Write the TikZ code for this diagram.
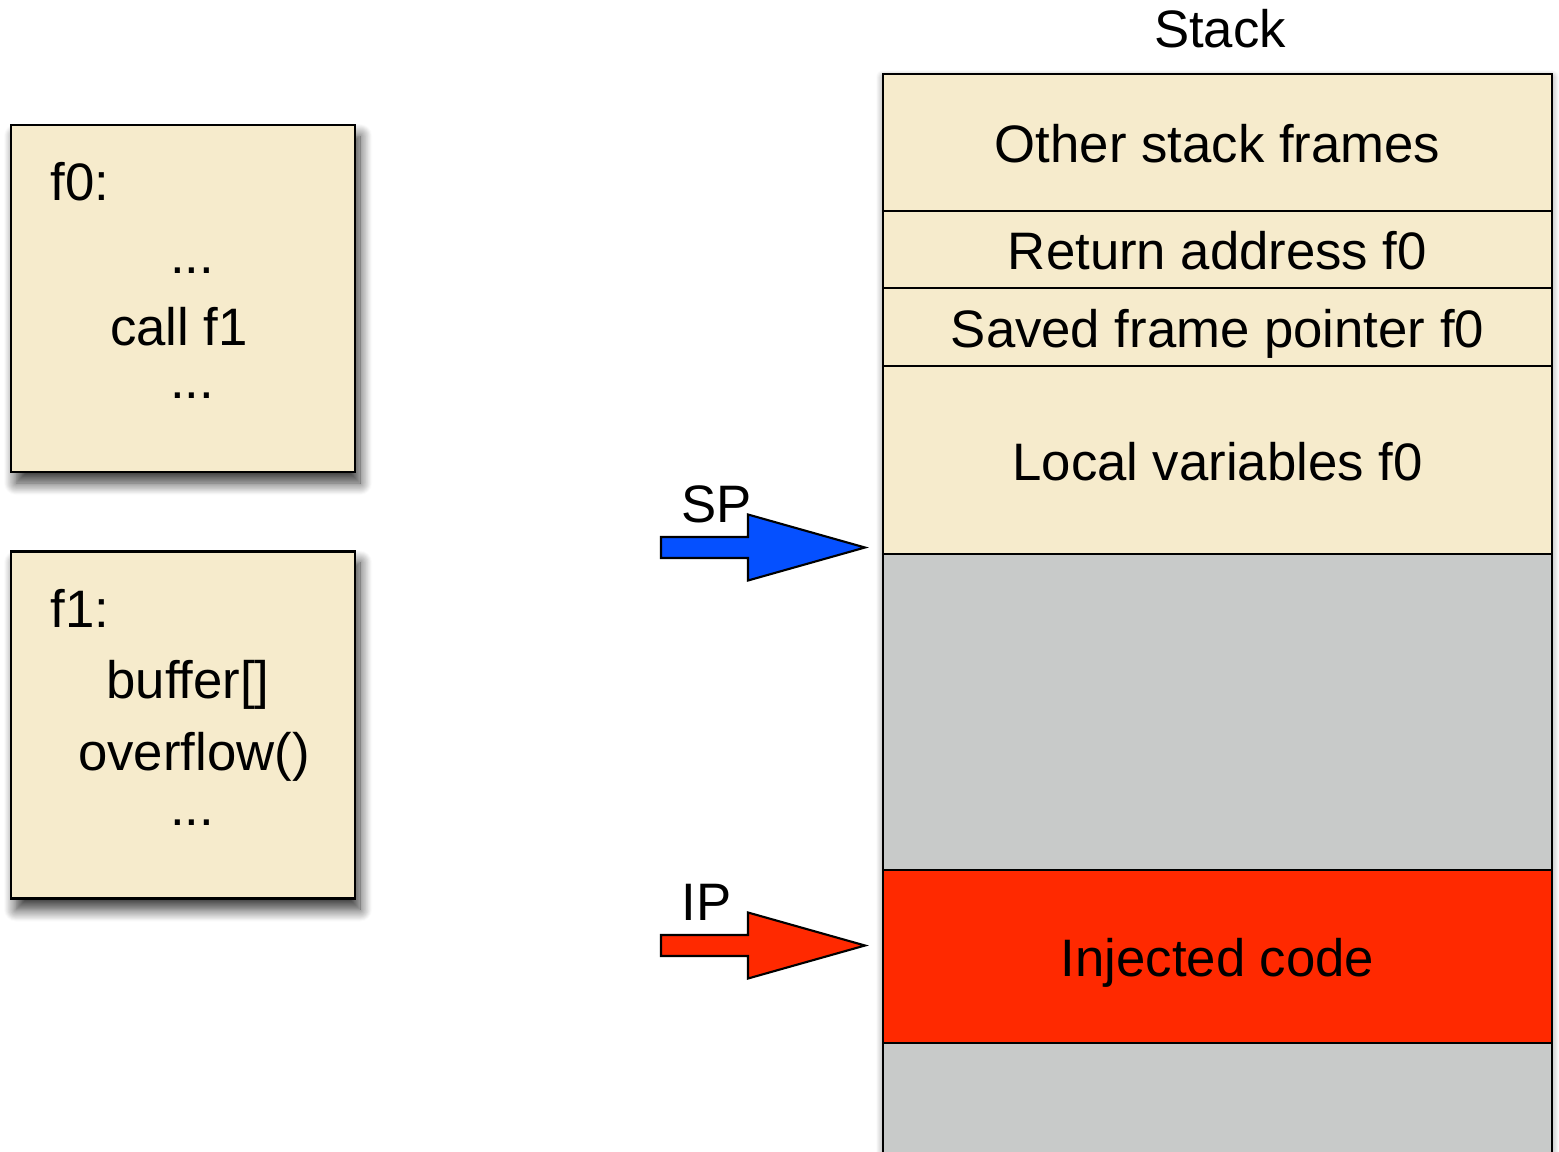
\documentclass[tikz,border=0pt]{standalone}
\usepackage{fontspec}
\setmainfont{Liberation Sans}
\usetikzlibrary{positioning,shadows.blur}

\definecolor{memtan}{RGB}{246,235,204}
\definecolor{memgray}{RGB}{200,202,201}
\definecolor{injred}{RGB}{255,41,0}
\definecolor{spblue}{RGB}{5,80,255}

\tikzset{
  txt/.style={inner sep=0pt, font=\fontsize{15}{18}\selectfont},
  slot/.style={draw, line width=0.6pt, fill=memtan, minimum width=6.69cm,
    outer sep=0pt, inner sep=0pt, text height=0.40cm, text depth=0pt,
    font=\fontsize{15}{18}\selectfont},
  codebox/.style={draw, line width=0.6pt, fill=memtan, minimum width=3.44cm,
    minimum height=3.47cm, outer sep=0pt,
    blur shadow={shadow xshift=0.05cm, shadow yshift=-0.11cm,
      shadow blur radius=0.12cm, shadow blur steps=14, shadow opacity=80}},
  ptr/.style={draw, line width=0.6pt, line join=miter}
}

\begin{document}
\begin{tikzpicture}
  \useasboundingbox (0,0) rectangle (15.59,-11.52);

  % Codigo de f0 y f1
  \node[codebox] (f0box) at (1.83,-2.985) {};
  \node[txt, anchor=base west] (f0head) at (0.50,-2.00) {f0:};
  \node[txt, anchor=base] (f0dotsa) at (1.92,-2.73) {...};
  \node[txt, anchor=base] (f0call) at (1.79,-3.45) {call f1};
  \node[txt, anchor=base] (f0dotsb) at (1.92,-3.98) {...};

  \node[codebox] (f1box) at (1.83,-7.25) {};
  \node[txt, anchor=base west] (f1head) at (0.50,-6.27) {f1:};
  \node[txt, anchor=base] (f1buf) at (1.88,-6.98) {buffer[]};
  \node[txt, anchor=base] (f1ovf) at (1.94,-7.70) {overflow()};
  \node[txt, anchor=base] (f1dots) at (1.92,-8.25) {...};

  % Sombra de la pila
  \path[blur shadow={shadow xshift=0cm, shadow yshift=-0.03cm,
      shadow blur radius=0.07cm, shadow blur steps=10, shadow opacity=45}]
    (8.83,-0.74) rectangle (15.52,-11.7);

  % Pila
  \node[txt, anchor=base] (stacklbl) at (12.20,-0.48) {Stack};
  \node[slot, minimum height=1.37cm, anchor=north] (other) at (12.175,-0.74) {Other stack frames};
  \node[slot, minimum height=0.77cm, below=0pt of other] (retaddr) {Return address f0};
  \node[slot, minimum height=0.78cm, below=0pt of retaddr] (savedfp) {Saved frame pointer f0};
  \node[slot, minimum height=1.88cm, below=0pt of savedfp] (locals) {Local variables f0};
  \node[slot, minimum height=3.16cm, fill=memgray, below=0pt of locals] (freea) {};
  \node[slot, minimum height=1.73cm, fill=injred, below=0pt of freea] (injected) {Injected code};
  \node[slot, minimum height=1.20cm, fill=memgray, below=0pt of injected] (freeb) {};

  % Punteros SP e IP
  \foreach \lab/\ya/\col in {SP/5.475/spblue, IP/9.455/injred} {
    \draw[ptr, fill=\col] (6.61,-\ya+0.105) -- (7.48,-\ya+0.105) -- (7.48,-\ya+0.33)
      -- (8.65,-\ya) -- (7.48,-\ya-0.33) -- (7.48,-\ya-0.105) -- (6.61,-\ya-0.105) -- cycle;
    \node[txt, anchor=base west] (\lab lbl) at (6.81,-\ya+0.255) {\lab};
  }
\end{tikzpicture}
\end{document}
